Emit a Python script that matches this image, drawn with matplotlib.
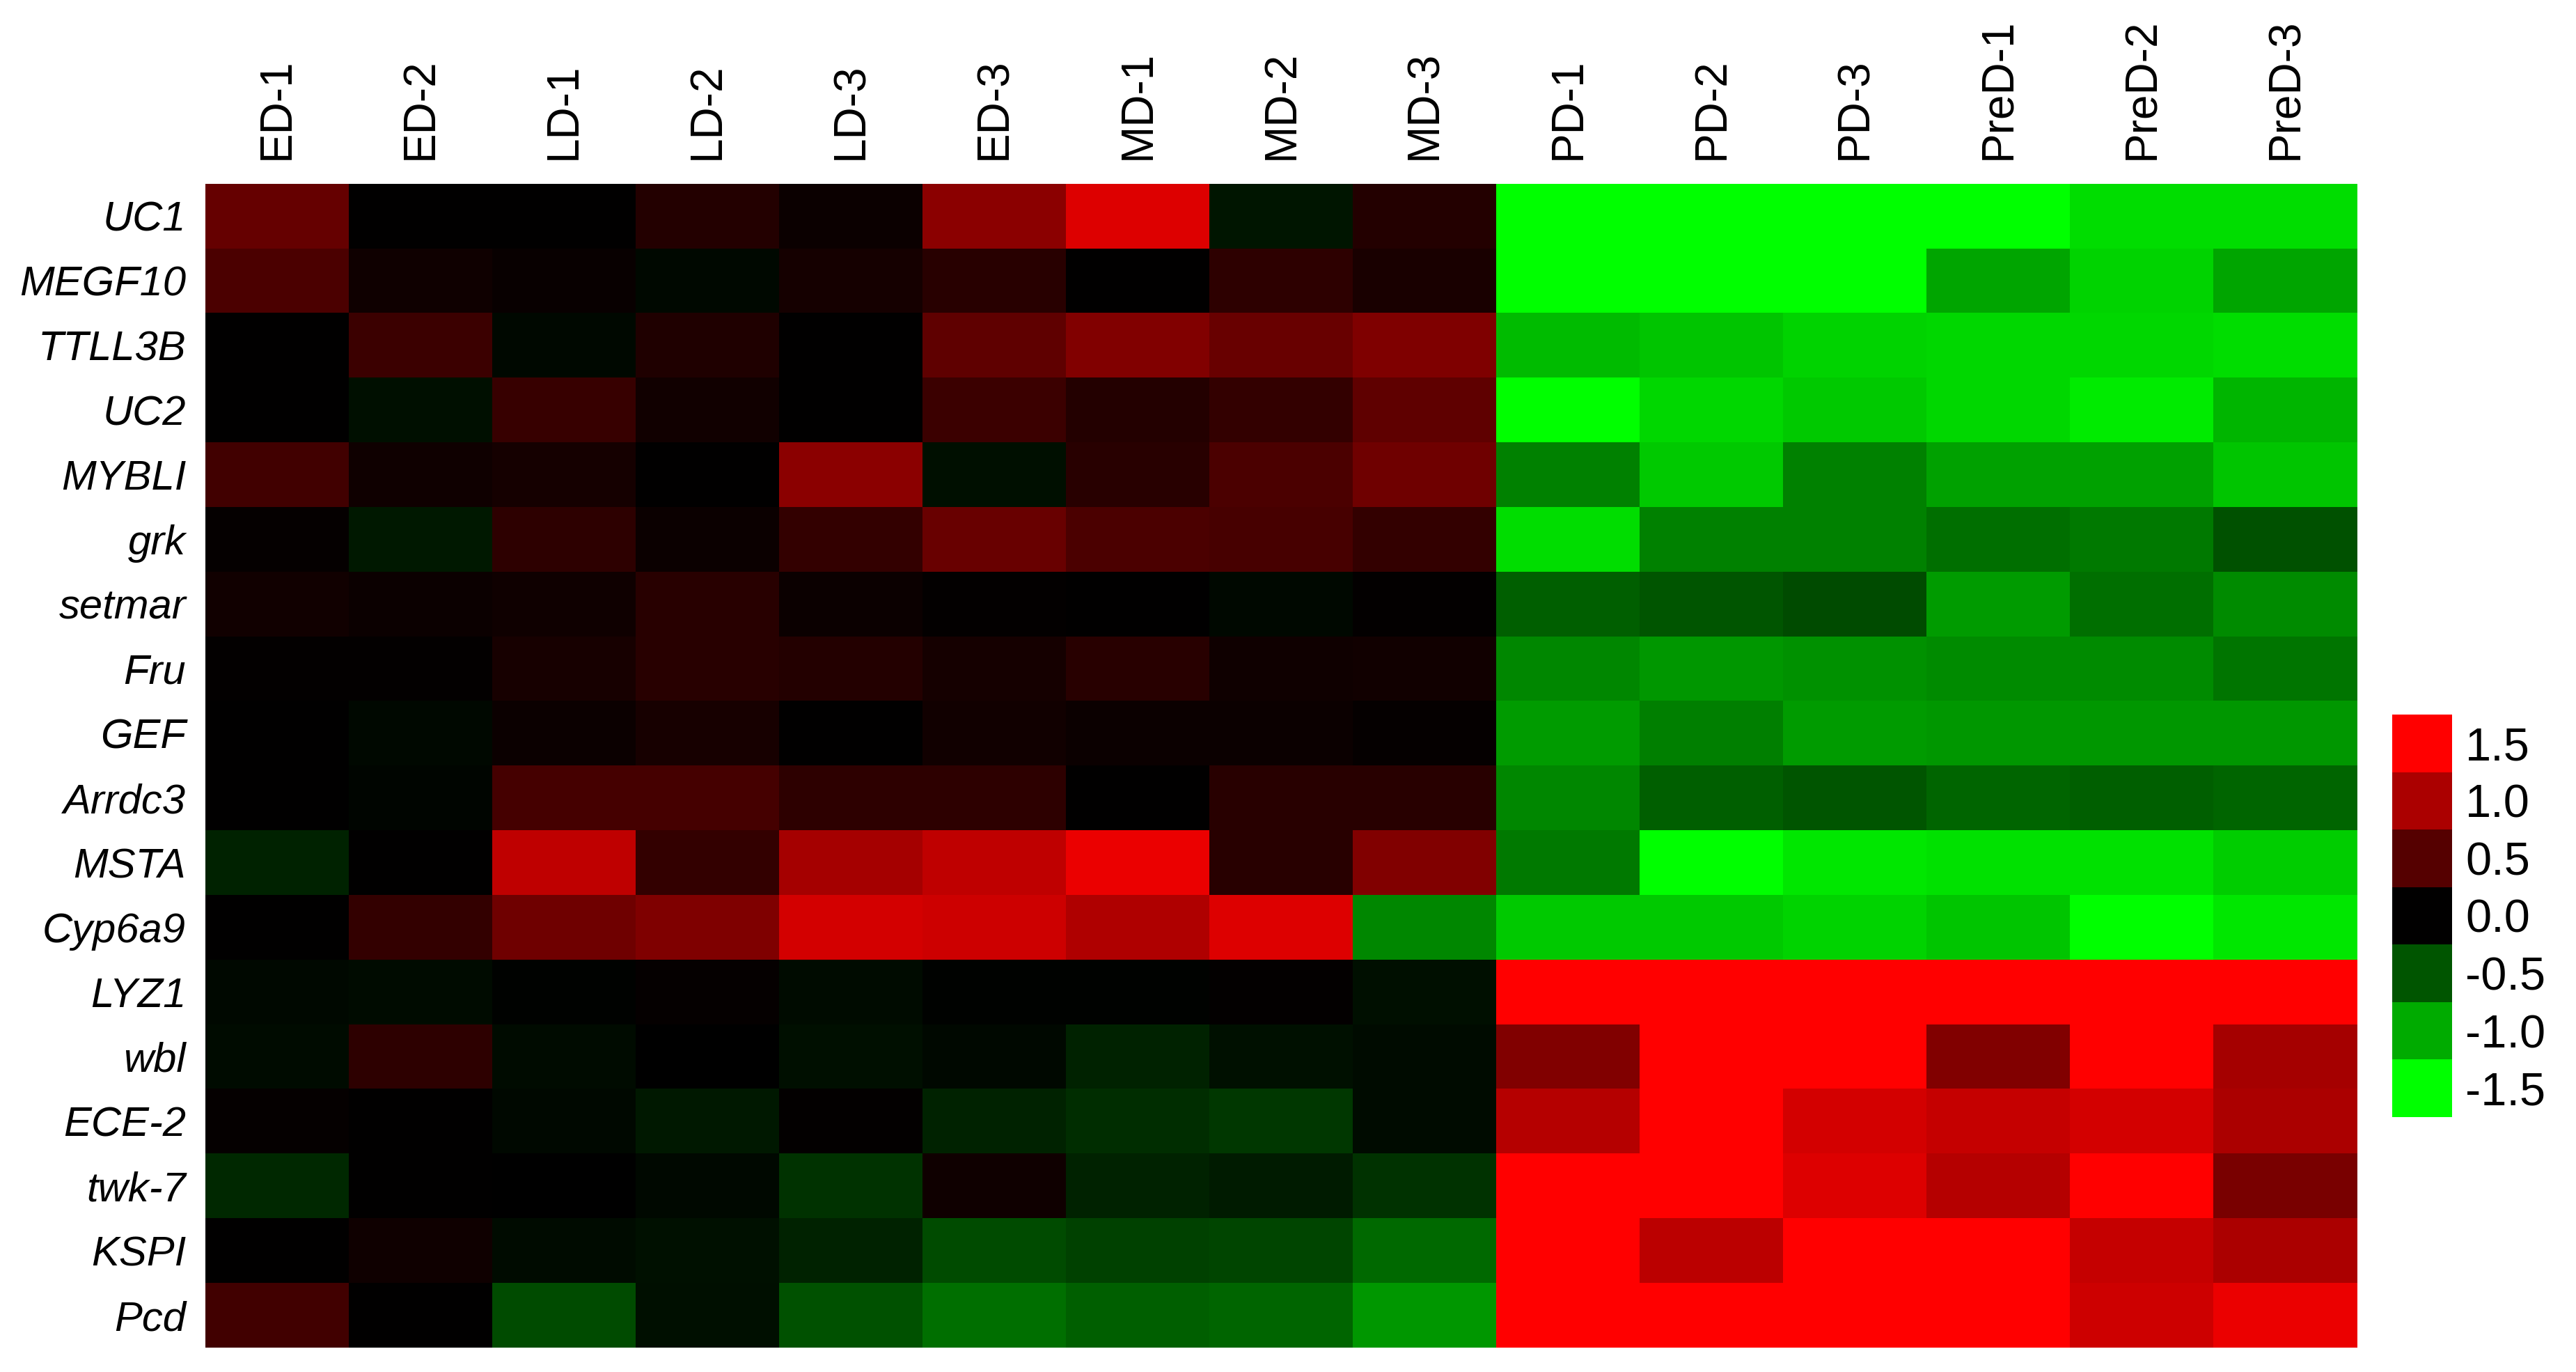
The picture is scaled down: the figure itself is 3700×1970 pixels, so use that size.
import numpy as np
import matplotlib
matplotlib.use("Agg")
import matplotlib.pyplot as plt
from matplotlib.colors import LinearSegmentedColormap

plt.rcParams['font.family'] = ['Liberation Sans', 'DejaVu Sans']
plt.rcParams['axes.unicode_minus'] = False

# samples (columns) and genes (rows)
samples = ['ED-1', 'ED-2', 'LD-1', 'LD-2', 'LD-3', 'ED-3', 'MD-1', 'MD-2', 'MD-3',
           'PD-1', 'PD-2', 'PD-3', 'PreD-1', 'PreD-2', 'PreD-3']
genes = ['UC1', 'MEGF10', 'TTLL3B', 'UC2', 'MYBLI', 'grk', 'setmar', 'Fru', 'GEF',
         'Arrdc3', 'MSTA', 'Cyp6a9', 'LYZ1', 'wbl', 'ECE-2', 'twk-7', 'KSPI', 'Pcd']

# relative expression, one list per gene (same order as samples)
UC1    = [0.59, 0.00, 0.01, 0.20, 0.06, 0.82, 1.30, -0.12, 0.20, -1.6, -1.6, -1.6, -1.55, -1.29, -1.29]
MEGF10 = [0.44, 0.09, 0.05, -0.05, 0.12, 0.24, 0.00, 0.26, 0.15, -1.6, -1.6, -1.6, -0.97, -1.24, -0.97]
TTLL3B = [0.00, 0.35, -0.05, 0.18, 0.00, 0.56, 0.76, 0.62, 0.74, -1.09, -1.15, -1.24, -1.26, -1.26, -1.29]
UC2    = [0.00, -0.09, 0.32, 0.10, 0.00, 0.35, 0.20, 0.30, 0.56, -1.55, -1.26, -1.18, -1.26, -1.38, -1.06]
MYBLI  = [0.38, 0.09, 0.12, 0.00, 0.82, -0.09, 0.24, 0.44, 0.65, -0.76, -1.18, -0.76, -0.94, -0.94, -1.15]
grk    = [0.03, -0.15, 0.26, 0.07, 0.30, 0.62, 0.44, 0.42, 0.30, -1.29, -0.76, -0.76, -0.65, -0.71, -0.47]
setmar = [0.10, 0.06, 0.09, 0.24, 0.06, 0.02, 0.01, -0.05, 0.02, -0.56, -0.50, -0.44, -0.91, -0.65, -0.82]
Fru    = [0.02, 0.02, 0.13, 0.24, 0.20, 0.12, 0.24, 0.09, 0.10, -0.79, -0.88, -0.85, -0.82, -0.82, -0.68]
GEF    = [0.00, -0.05, 0.07, 0.13, 0.00, 0.10, 0.06, 0.06, 0.03, -0.91, -0.74, -0.91, -0.88, -0.88, -0.88]
Arrdc3 = [0.00, -0.03, 0.41, 0.41, 0.26, 0.26, 0.00, 0.24, 0.24, -0.79, -0.56, -0.50, -0.59, -0.56, -0.59]
MSTA   = [-0.20, 0.00, 1.12, 0.30, 0.97, 1.12, 1.38, 0.24, 0.76, -0.71, -1.55, -1.35, -1.32, -1.32, -1.20]
Cyp6a9 = [0.00, 0.30, 0.65, 0.74, 1.24, 1.20, 1.03, 1.30, -0.79, -1.18, -1.18, -1.24, -1.15, -1.55, -1.35]
LYZ1   = [-0.05, -0.07, -0.02, 0.03, -0.07, -0.02, -0.02, 0.02, -0.09, 1.6, 1.6, 1.6, 1.6, 1.6, 1.6]
wbl    = [-0.07, 0.26, -0.07, -0.01, -0.09, -0.05, -0.20, -0.10, -0.06, 0.76, 1.6, 1.6, 0.76, 1.5, 0.97]
ECE2   = [0.03, 0.00, -0.05, -0.15, 0.02, -0.20, -0.26, -0.32, -0.07, 1.06, 1.6, 1.24, 1.15, 1.24, 1.00]
twk7   = [-0.24, 0.00, -0.01, -0.05, -0.30, 0.09, -0.20, -0.16, -0.30, 1.6, 1.6, 1.30, 1.06, 1.6, 0.71]
KSPI   = [0.00, 0.09, -0.06, -0.10, -0.20, -0.44, -0.38, -0.41, -0.62, 1.6, 1.09, 1.6, 1.6, 1.15, 1.00]
Pcd    = [0.38, 0.00, -0.44, -0.09, -0.47, -0.65, -0.56, -0.59, -0.88, 1.6, 1.6, 1.6, 1.6, 1.20, 1.38]

cbar_ticks = [1.5, 1.0, 0.5, 0.0, -0.5, -1.0, -1.5]

data = np.array([UC1, MEGF10, TTLL3B, UC2, MYBLI, grk, setmar, Fru, GEF,
                 Arrdc3, MSTA, Cyp6a9, LYZ1, wbl, ECE2, twk7, KSPI, Pcd])

# green - black - red
cmap = LinearSegmentedColormap.from_list('gbr', ['#00ff00', '#000000', '#ff0000'])

fig = plt.figure(figsize=(37, 19.7), dpi=100)
ax = fig.add_axes([0.0797, 0.0178, 0.8354, 0.8482])
im = ax.imshow(data, cmap=cmap, vmin=-1.5, vmax=1.5, aspect='auto', interpolation='nearest')

ax.xaxis.tick_top()
ax.set_xticks(np.arange(len(samples)))
ax.set_xticklabels(samples, rotation=90, fontsize=46)
ax.set_yticks(np.arange(len(genes)))
ax.set_yticklabels(genes, fontsize=43, style='italic')
ax.tick_params(axis='x', length=0, pad=25)
ax.tick_params(axis='y', length=0, pad=20)
for s in ax.spines.values():
    s.set_visible(False)

# stepped colour key
cax = fig.add_axes([0.9286, 0.1858, 0.0232, 0.2934])
bounds = np.arange(-1.75, 1.8, 0.5)
cb = fig.colorbar(im, cax=cax, boundaries=bounds, values=sorted(cbar_ticks))
cb.set_ticks(cbar_ticks)
cb.set_ticklabels([f'{t:.1f}' for t in cbar_ticks])
cb.outline.set_visible(False)
cax.tick_params(length=0, pad=14, labelsize=48)

fig.savefig('out.png', dpi=100)
